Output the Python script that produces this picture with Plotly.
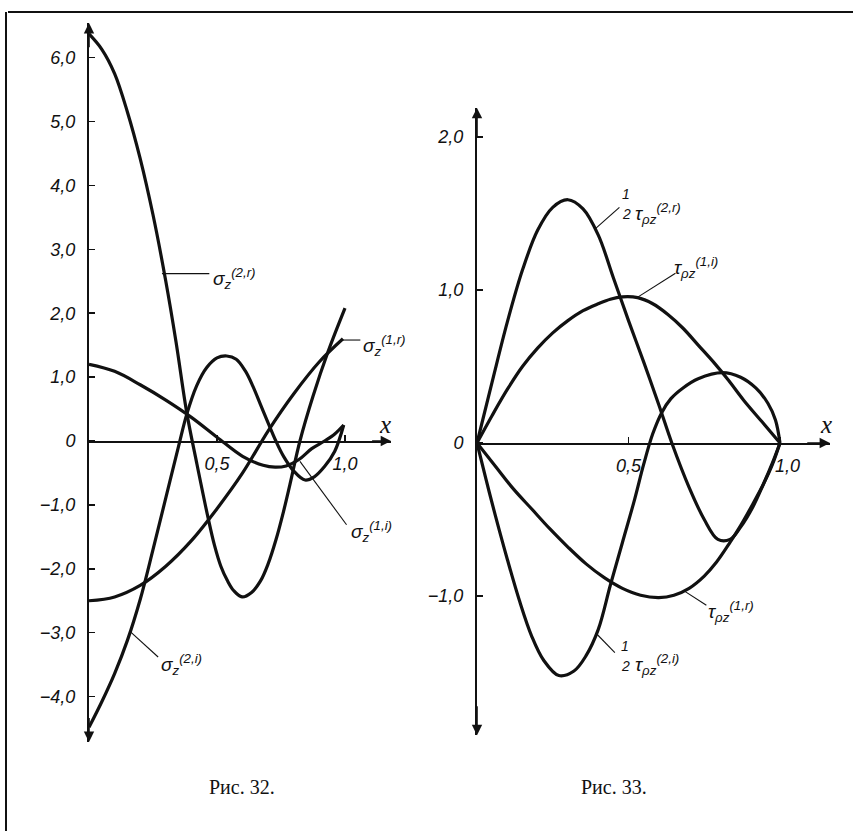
import plotly.graph_objects as go

# ---------------- data ----------------
# Fig. 32 : sigma_z components
sz2r_x = [0, 0.05, 0.1, 0.15, 0.2, 0.25, 0.3, 0.34, 0.382, 0.42, 0.465, 0.49, 0.515, 0.54, 0.565, 0.598, 0.635, 0.67, 0.7, 0.73, 0.76, 0.785, 0.824, 0.875, 0.934, 1.0]
sz2r_y = [6.37, 6.13, 5.75, 5.15, 4.42, 3.54, 2.5, 1.55, 0.44, -0.33, -1.2, -1.63, -1.96, -2.18, -2.34, -2.44, -2.37, -2.19, -1.92, -1.55, -1.1, -0.68, 0.0, 0.7, 1.4, 2.08]

sz2i_x = [0, 0.05, 0.1, 0.15, 0.2, 0.25, 0.3, 0.35, 0.382, 0.42, 0.46, 0.5, 0.538, 0.575, 0.61, 0.64, 0.67, 0.7, 0.73, 0.76, 0.8, 0.844, 0.88, 0.92, 0.96, 0.995]
sz2i_y = [-4.48, -4.08, -3.64, -3.12, -2.48, -1.7, -0.89, -0.08, 0.42, 0.86, 1.15, 1.3, 1.33, 1.28, 1.1, 0.86, 0.57, 0.28, 0.0, -0.24, -0.47, -0.61, -0.56, -0.4, -0.16, 0.25]

sz1i_x = [0, 0.1, 0.2, 0.3, 0.4, 0.5, 0.6, 0.68, 0.727, 0.77, 0.82, 0.87, 0.92, 0.96, 0.995]
sz1i_y = [1.2, 1.09, 0.88, 0.64, 0.37, 0.06, -0.24, -0.38, -0.41, -0.39, -0.29, -0.12, 0.0, 0.11, 0.25]

sz1r_x = [0, 0.1, 0.2, 0.3, 0.4, 0.5, 0.6, 0.7, 0.8, 0.9, 0.992]
sz1r_y = [-2.5, -2.44, -2.26, -1.96, -1.56, -1.06, -0.5, 0.16, 0.74, 1.24, 1.6]

# Fig. 33 : tau_rho_z components
t2r_x = [0, 0.05, 0.1, 0.15, 0.2, 0.25, 0.3, 0.35, 0.4, 0.45, 0.5, 0.55, 0.6, 0.643, 0.7, 0.75, 0.795, 0.835, 0.87, 0.91, 0.945, 0.975, 1.0]
t2r_y = [0, 0.4, 0.79, 1.13, 1.39, 1.54, 1.59, 1.53, 1.36, 1.08, 0.8, 0.53, 0.25, 0.0, -0.29, -0.5, -0.63, -0.63, -0.55, -0.42, -0.27, -0.13, 0.0]

t2i_x = [0, 0.03, 0.06, 0.1, 0.14, 0.18, 0.22, 0.27, 0.32, 0.36, 0.4, 0.44, 0.48, 0.52, 0.55, 0.58, 0.61, 0.64, 0.68, 0.73, 0.81, 0.87, 0.92, 0.96, 0.985, 1.0]
t2i_y = [0, -0.24, -0.47, -0.76, -1.03, -1.26, -1.42, -1.52, -1.49, -1.39, -1.22, -0.93, -0.65, -0.37, -0.14, 0.06, 0.2, 0.29, 0.36, 0.42, 0.46, 0.43, 0.36, 0.26, 0.15, 0.0]

t1i_x = [0, 0.05, 0.1, 0.15, 0.2, 0.25, 0.3, 0.35, 0.4, 0.44, 0.48, 0.53, 0.58, 0.63, 0.68, 0.73, 0.78, 0.83, 0.88, 0.94, 1.0]
t1i_y = [0, 0.18, 0.35, 0.5, 0.62, 0.72, 0.8, 0.865, 0.91, 0.94, 0.955, 0.95, 0.91, 0.84, 0.75, 0.64, 0.53, 0.41, 0.28, 0.14, 0.0]

t1r_x = [0, 0.06, 0.12, 0.18, 0.24, 0.3, 0.36, 0.42, 0.48, 0.54, 0.6, 0.65, 0.7, 0.75, 0.79, 0.835, 0.87, 0.91, 0.945, 0.975, 1.0]
t1r_y = [0, -0.15, -0.3, -0.43, -0.56, -0.68, -0.79, -0.88, -0.95, -0.995, -1.01, -0.995, -0.95, -0.87, -0.78, -0.65, -0.54, -0.4, -0.27, -0.14, 0.0]

# tick labels
left_ytick_vals = [-4, -3, -2, -1, 0, 1, 2, 3, 4, 5, 6]
left_ytick_text = ["\u22124,0", "\u22123,0", "\u22122,0", "\u22121,0", "0", "1,0", "2,0", "3,0", "4,0", "5,0", "6,0"]
right_ytick_vals = [-1, 0, 1, 2]
right_ytick_text = ["\u22121,0", "0", "1,0", "2,0"]
xtick_vals = [0.5, 1.0]
left_xtick_text = ["0,5", "1,0"]
right_xtick_text = ["0,5", "\u00a0\u00a0\u00a01,0"]

# ---------------- layout geometry ----------------
W, H = 853, 831
L_X0, L_XU, L_Y0, L_YU = 89, 256, 441, 63.9
R_X0, R_XU, R_Y0, R_YU = 477, 303, 443, 153
L_XR, L_YR = [0, 1.18], [-4.71, 6.54]
R_XR, R_YR = [0, 1.165], [-1.91, 2.19]


def xdom(x0, xu, xr):
    return [(x0 + xr[0] * xu) / W, (x0 + xr[1] * xu) / W]


def ydom(y0, yu, yr):
    return [1 - (y0 - yr[0] * yu) / H, 1 - (y0 - yr[1] * yu) / H]


L_XD, L_YD = xdom(L_X0, L_XU, L_XR), ydom(L_Y0, L_YU, L_YR)
R_XD, R_YD = xdom(R_X0, R_XU, R_XR), ydom(R_Y0, R_YU, R_YR)


def zero_pos(yd, yr):
    return yd[0] + (0 - yr[0]) / (yr[1] - yr[0]) * (yd[1] - yd[0])


TICKFONT = dict(family="Liberation Sans", size=18, color="#111", style="italic")
LABFONT = dict(family="Liberation Sans", size=19, color="#111", style="italic")
CURVE = dict(color="#111", width=3.2)

fig = go.Figure()
for xs, ys in [(sz2r_x, sz2r_y), (sz2i_x, sz2i_y), (sz1i_x, sz1i_y), (sz1r_x, sz1r_y)]:
    fig.add_trace(go.Scatter(x=xs, y=ys, mode="lines", line=dict(shape="spline", smoothing=1.0, **CURVE),
                             xaxis="x", yaxis="y", cliponaxis=False, showlegend=False, hoverinfo="skip"))
for xs, ys in [(t2r_x, t2r_y), (t2i_x, t2i_y), (t1i_x, t1i_y), (t1r_x, t1r_y)]:
    fig.add_trace(go.Scatter(x=xs, y=ys, mode="lines", line=dict(shape="spline", smoothing=1.0, **CURVE),
                             xaxis="x2", yaxis="y2", cliponaxis=False, showlegend=False, hoverinfo="skip"))


def xaxis_cfg(dom, rng, pos, ttext):
    return dict(domain=dom, range=rng, anchor="free", position=pos, showline=True, linecolor="#111",
                linewidth=1.5, ticks="inside", ticklen=6, tickwidth=1.5, tickcolor="#111",
                tickvals=xtick_vals, ticktext=ttext, tickfont=TICKFONT, ticklabelstandoff=6,
                showgrid=False, zeroline=False, fixedrange=True)


def yaxis_cfg(dom, rng, anchor, tv, tt):
    return dict(domain=dom, range=rng, anchor=anchor, showline=True, linecolor="#111", linewidth=2,
                ticks="inside", ticklen=6, tickwidth=1.5, tickcolor="#111",
                tickvals=tv, ticktext=tt, tickfont=TICKFONT, ticklabelstandoff=8,
                showgrid=False, zeroline=False, fixedrange=True)


fig.update_layout(
    width=W, height=H, margin=dict(l=0, r=0, t=0, b=0),
    paper_bgcolor="white", plot_bgcolor="rgba(0,0,0,0)", showlegend=False,
    xaxis=xaxis_cfg(L_XD, L_XR, zero_pos(L_YD, L_YR), left_xtick_text),
    yaxis=yaxis_cfg(L_YD, L_YR, "x", left_ytick_vals, left_ytick_text),
    xaxis2=xaxis_cfg(R_XD, R_XR, zero_pos(R_YD, R_YR), right_xtick_text),
    yaxis2=yaxis_cfg(R_YD, R_YR, "x2", right_ytick_vals, right_ytick_text),
)

ann = []
shapes = []


def arrow(xr, yr, x, y, ax, ay):
    ann.append(dict(xref=xr, yref=yr, axref=xr, ayref=yr, x=x, y=y, ax=ax, ay=ay, text="",
                    showarrow=True, arrowhead=2, arrowsize=1.3, arrowwidth=1.6, arrowcolor="#111"))


# axis arrowheads
arrow("x", "y", 0, L_YR[1], 0, L_YR[1] - 0.4)
arrow("x", "y", 0, L_YR[0], 0, L_YR[0] + 0.4)
arrow("x", "y", L_XR[1], 0, L_XR[1] - 0.08, 0)
arrow("x2", "y2", 0, R_YR[1], 0, R_YR[1] - 0.2)
arrow("x2", "y2", 0, R_YR[0], 0, R_YR[0] + 0.2)
arrow("x2", "y2", R_XR[1], 0, R_XR[1] - 0.08, 0)

# axis name "x"
XFONT = dict(family="Liberation Serif", size=25, color="#111", style="italic")
ann.append(dict(xref="x", yref="y", x=1.155, y=0.02, text="x", showarrow=False, font=XFONT,
                xanchor="center", yanchor="bottom"))
ann.append(dict(xref="x2", yref="y2", x=1.152, y=0.02, text="x", showarrow=False, font=XFONT,
                xanchor="center", yanchor="bottom"))


def leader(xr, yr, x0, y0, x1, y1):
    shapes.append(dict(type="line", xref=xr, yref=yr, x0=x0, y0=y0, x1=x1, y1=y1,
                       line=dict(color="#111", width=1.1)))


def label(xr, yr, x, y, text):
    ann.append(dict(xref=xr, yref=yr, x=x, y=y, text=text, showarrow=False, font=LABFONT,
                    xanchor="left", yanchor="middle"))


def frac(xr, yr, x, y_top, y_bot):
    f = dict(LABFONT)
    f["size"] = 14
    ann.append(dict(xref=xr, yref=yr, x=x, y=y_top, text="1", showarrow=False, font=f,
                    xanchor="center", yanchor="middle"))
    ann.append(dict(xref=xr, yref=yr, x=x, y=y_bot, text="2", showarrow=False, font=f,
                    xanchor="center", yanchor="middle"))


# Fig. 32 labels
leader("x", "y", 0.285, 2.62, 0.47, 2.62)
label("x", "y", 0.475, 2.55, "σ<sub>z</sub><sup>(2,r)</sup>")
leader("x", "y", 0.99, 1.58, 1.06, 1.58)
label("x", "y", 1.062, 1.5, "σ<sub>z</sub><sup>(1,r)</sup>")
leader("x", "y", 0.824, -0.32, 1.006, -1.31)
label("x", "y", 1.015, -1.42, "σ<sub>z</sub><sup>(1,i)</sup>")
leader("x", "y", 0.16, -2.98, 0.27, -3.38)
label("x", "y", 0.272, -3.5, "σ<sub>z</sub><sup>(2,i)</sup>")

# Fig. 33 labels
leader("x2", "y2", 0.39, 1.4, 0.47, 1.54)
frac("x2", "y2", 0.492, 1.63, 1.5)
label("x2", "y2", 0.515, 1.5, "τ<sub>ρz</sub><sup>(2,r)</sup>")
leader("x2", "y2", 0.528, 0.95, 0.655, 1.11)
label("x2", "y2", 0.645, 1.15, "τ<sub>ρz</sub><sup>(1,i)</sup>")
leader("x2", "y2", 0.686, -0.97, 0.757, -1.06)
label("x2", "y2", 0.755, -1.1, "τ<sub>ρz</sub><sup>(1,r)</sup>")
leader("x2", "y2", 0.396, -1.25, 0.455, -1.37)
frac("x2", "y2", 0.49, -1.33, -1.46)
label("x2", "y2", 0.515, -1.45, "τ<sub>ρz</sub><sup>(2,i)</sup>")

# captions
CAPFONT = dict(family="Liberation Serif", size=20, color="#111")
ann.append(dict(xref="paper", yref="paper", x=242 / W, y=1 - 787 / H, text="Рис. 32.", showarrow=False,
                font=CAPFONT, xanchor="center", yanchor="middle"))
ann.append(dict(xref="paper", yref="paper", x=614 / W, y=1 - 787 / H, text="Рис. 33.", showarrow=False,
                font=CAPFONT, xanchor="center", yanchor="middle"))

# page frame (top and left rules of the scanned page)
shapes.append(dict(type="line", xref="paper", yref="paper", x0=8 / W, y0=1 - 12 / H, x1=1, y1=1 - 12 / H,
                   line=dict(color="#111", width=2)))
shapes.append(dict(type="line", xref="paper", yref="paper", x0=6 / W, y0=1 - 12 / H, x1=6 / W, y1=0,
                   line=dict(color="#111", width=2)))

fig.update_layout(annotations=ann, shapes=shapes)
fig.write_html("out.html", config={"displayModeBar": False, "staticPlot": True},
               post_script="document.body.style.margin='0px';document.body.style.overflow='hidden';")
